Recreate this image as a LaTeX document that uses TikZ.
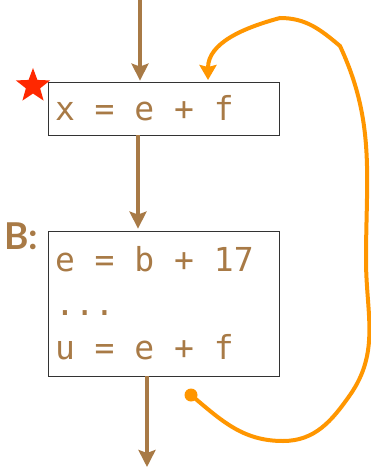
\documentclass[tikz,border=0pt]{standalone}
\usepackage{fontspec}
\setmonofont{DejaVu Sans Mono}
\newfontfamily\labelfont{Lato}
\usetikzlibrary{arrows.meta,shapes.geometric}
\definecolor{codebrown}{RGB}{168,122,70}
\definecolor{backorange}{RGB}{255,150,0}
\definecolor{markred}{RGB}{255,40,0}
\newcommand\gap{\hspace*{0.602em}}

\begin{document}
\begin{tikzpicture}[x=1pt,y=-1pt,
  block/.style={draw=black!80, line width=0.8pt, minimum width=231pt,
    text width=217pt, inner xsep=7pt, align=left, text=codebrown,
    font=\ttfamily\fontsize{33}{44}\selectfont},
  flow/.style={codebrown, line width=4pt, -{Stealth[length=17pt,width=17pt,inset=3pt]}},
  back/.style={backorange, line width=4pt, -{Stealth[length=15pt,width=17pt,inset=2pt]}}]
  \useasboundingbox (0,0) rectangle (370,468);

  % the two blocks
  \node[block, minimum height=53pt] (blkA) at (163.5,108.5)
    {x\gap=\gap e\gap+\gap f};
  \node[block, minimum height=145pt] (blkB) at (163.5,303.5)
    {e\gap=\gap b\gap+\gap17\\...\\u\gap=\gap e\gap+\gap f};

  \node[star, star points=5, star point ratio=2.4, fill=markred,
        minimum size=36pt, inner sep=0pt] (mark) at (33,86) {};
  \node[anchor=base west, text=codebrown, inner sep=0pt,
        font=\labelfont\bfseries\fontsize{37}{37}\selectfont] (lblB) at (4,249) {B:};

  % straight flow
  \coordinate (entry) at (140,0);
  \coordinate (midx) at (138,0);
  \coordinate (exit) at (147,467);
  \draw[flow, shorten >=1pt] (entry) -- (entry |- blkA.north);
  \draw[flow, shorten >=2pt] (blkA.south -| midx) -- (blkB.north -| midx);
  \draw[flow] (blkB.south -| exit) -- (exit);

  % back edge
  \node[circle, fill=backorange, inner sep=0pt, minimum size=13pt] (src) at (191,395) {};
  \coordinate (dest) at (208,80);
  \draw[back] (src.center) to[out=-40,in=180] (283,441)
    to[out=0,in=-125] (350,395) to[out=55,in=-90] (366,260)
    to[out=90,in=-65] (340,46) to[out=140,in=0] (280,18)
    to[out=195,in=90] (dest);
\end{tikzpicture}
\end{document}
